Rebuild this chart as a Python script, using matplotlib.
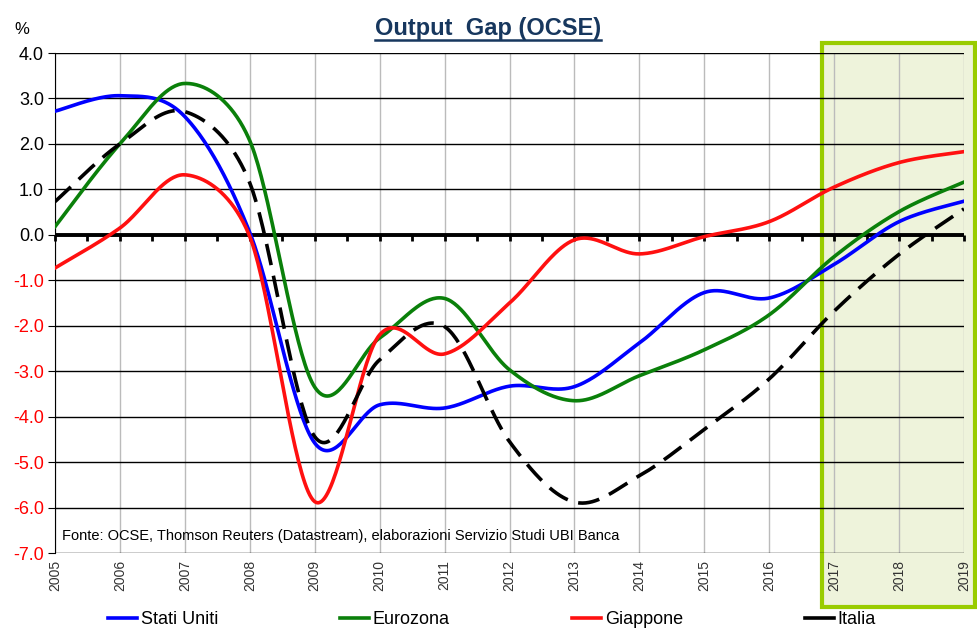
import numpy as np
import matplotlib
matplotlib.use('Agg')
import matplotlib.pyplot as plt
from matplotlib.patches import Rectangle
from matplotlib.lines import Line2D

years = list(range(2005, 2020))

stati_uniti = [2.72, 3.06, 2.6, 0.05, -4.58, -3.74, -3.81, -3.33, -3.34, -2.38, -1.27, -1.39, -0.65, 0.29, 0.74]
eurozona = [0.18, 2.0, 3.33, 2.07, -3.35, -2.27, -1.4, -2.97, -3.65, -3.1, -2.53, -1.76, -0.48, 0.51, 1.16]
giappone = [-0.73, 0.15, 1.32, -0.04, -5.87, -2.2, -2.62, -1.5, -0.11, -0.42, -0.04, 0.29, 1.05, 1.59, 1.83]
italia = [0.73, 2.0, 2.71, 1.14, -4.44, -2.75, -2.02, -4.55, -5.88, -5.3, -4.28, -3.17, -1.68, -0.43, 0.57]

yticks = [4, 3, 2, 1, 0, -1, -2, -3, -4, -5, -6, -7]

plt.rcParams['font.family'] = ['Liberation Sans', 'DejaVu Sans']
narrow = ['Liberation Sans Narrow', 'Liberation Sans', 'DejaVu Sans']


def ctrl(q, d12):
	# control offset (q/6), kept within half of the segment
	v = q / 6
	L = np.hypot(*v)
	if L > d12 / 2:
		v = v * (d12 / 2) / L
	return v


def smooth(ax, x, y, n=40):
	# excel-style smoothed line drawn in screen space
	pts = ax.transData.transform(np.column_stack([x, y]))
	pts = np.vstack([pts[:1], pts, pts[-1:]])
	t = np.linspace(0, 1, n, endpoint=False)[:, None]
	out = []
	for i in range(1, len(pts) - 2):
		p0, p1, p2, p3 = pts[i - 1], pts[i], pts[i + 1], pts[i + 2]
		d12 = np.hypot(*(p2 - p1))
		c1 = p1 + ctrl(p2 - p0, d12)
		c2 = p2 - ctrl(p3 - p1, d12)
		out.append((1 - t) ** 3 * p1 + 3 * (1 - t) ** 2 * t * c1 + 3 * (1 - t) * t ** 2 * c2 + t ** 3 * p2)
	out.append(pts[-1:])
	d = ax.transData.inverted().transform(np.vstack(out))
	return d[:, 0], d[:, 1]


fig = plt.figure(figsize=(9.77, 6.38), dpi=100)
ax = fig.add_axes([55/977, 1 - 553/638, 909/977, 500/638])
ax.patch.set_visible(False)

# forecast box
rect = Rectangle((822/977, 1 - 607/638), 153/977, 564/638, transform=fig.transFigure,
	facecolor='#EEF3DB', edgecolor='#99CC00', lw=3, zorder=-1)
fig.patches.append(rect)

ax.set_xlim(2005, 2019)
ax.set_ylim(-7, 4)

for yv in yticks:
	ax.axhline(yv, color='black', lw=1, zorder=1)
for yr in years:
	ax.axvline(yr, color='#BBBBBB', lw=1, zorder=0.5)

series = [
	('Stati Uniti', stati_uniti, '#0000FF', '-'),
	('Eurozona', eurozona, '#0A800A', '-'),
	('Giappone', giappone, '#FF1010', '-'),
	('Italia', italia, 'black', (0, (6, 3))),
]
handles = []
for name, vals, col, ls in series:
	sx, sy = smooth(ax, years, vals)
	ax.plot(sx, sy, color=col, lw=2.6, ls=ls, zorder=3)
	handles.append(Line2D([], [], color=col, lw=2.6, label=name))

ax.axhline(0, color='black', lw=2.8, zorder=2)

ax.spines['right'].set_visible(False)
ax.spines['top'].set_visible(False)
ax.spines['bottom'].set_position(('data', 0))
ax.spines['bottom'].set_visible(False)
ax.set_xticks(np.arange(2005, 2019.01, 0.5))
ax.set_xticklabels([])
ax.tick_params(axis='x', direction='out', length=4, width=2, color='black')

ax.set_yticks(yticks)
ax.set_yticklabels([f'{v:.1f}' for v in yticks], fontsize=13)
ax.tick_params(axis='y', length=5, pad=3)
for lab, v in zip(ax.get_yticklabels(), yticks):
	lab.set_color('red' if v < 0 else 'black')

sec = ax.secondary_xaxis(0.0)
sec.set_xticks(years)
sec.set_xticklabels([str(y) for y in years], rotation=90, fontsize=10, color='#333333')
sec.tick_params(length=0, pad=5)
sec.spines['bottom'].set_visible(False)

ax.text(0.0077, -6.62, 'Fonte: OCSE, Thomson Reuters (Datastream), elaborazioni Servizio Studi UBI Banca',
	fontsize=10.5, family=narrow, va='center', transform=ax.get_yaxis_transform())

fig.text(22/977, 1 - 30/638, '%', fontsize=12, ha='center', va='center')

title = fig.text(488/977, 1 - 35/638, 'Output  Gap (OCSE)', fontsize=17, fontweight='bold',
	color='#17375E', ha='center', va='baseline')
fig.canvas.draw()
bb = title.get_window_extent().transformed(fig.transFigure.inverted())
fig.add_artist(Line2D([bb.x0, bb.x1], [1 - 40/638] * 2, color='#17375E', lw=1.8,
	transform=fig.transFigure))

fig.legend(handles=handles, loc='center left', bbox_to_anchor=(92/977, 1 - 620/638, 800/977, 0),
	mode='expand', ncol=4, frameon=False, handlelength=1.6, handletextpad=0.2,
	prop={'family': narrow, 'size': 13})

fig.savefig('out.png', dpi=100)
